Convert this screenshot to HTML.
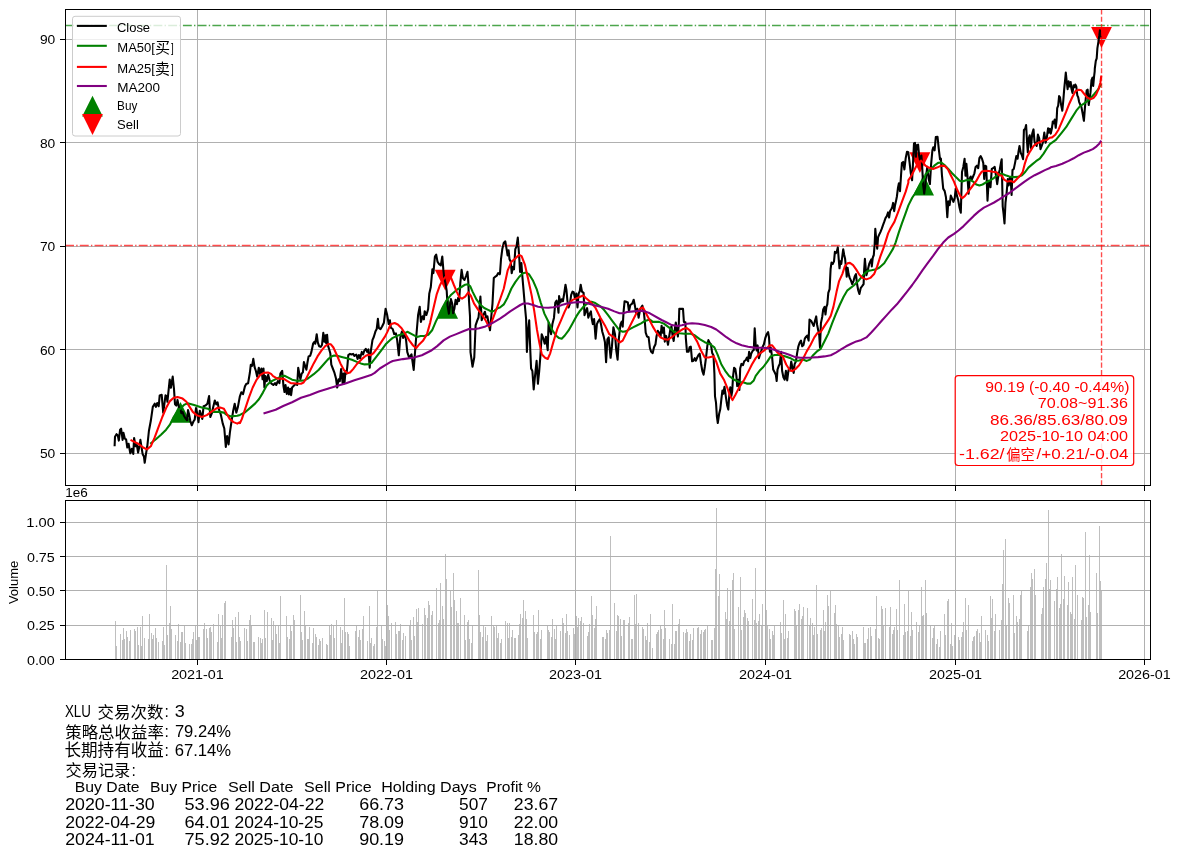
<!DOCTYPE html>
<html><head><meta charset="utf-8"><title>XLU</title><style>html,body{margin:0;padding:0;background:#fff}svg{display:block;will-change:transform}text{font-family:"Liberation Sans","Noto Sans CJK SC",sans-serif;white-space:pre}</style></head><body>
<svg width="1180" height="857" viewBox="0 0 1180 857" font-family="'Liberation Sans', 'Noto Sans CJK SC', sans-serif">
<rect width="1180" height="857" fill="#fff"/>
<path d="M180.5 401.9L190.9 422.7L170.1 422.7Z" fill="#008000"/>
<path d="M447.7 297.9L458.1 318.7L437.3 318.7Z" fill="#008000"/>
<path d="M923.6 174.7L934.0 195.5L913.2 195.5Z" fill="#008000"/>
<path d="M445.2 290.6L455.6 269.8L434.8 269.8Z" fill="#ff0000"/>
<path d="M919.9 173.1L930.3 152.3L909.5 152.3Z" fill="#ff0000"/>
<path d="M1101.5 47.9L1111.9 27.1L1091.1 27.1Z" fill="#ff0000"/>
<g stroke="#b0b0b0" stroke-width="1" shape-rendering="crispEdges">
<line x1="197.5" y1="9.0" x2="197.5" y2="486.0"/>
<line x1="386.5" y1="9.0" x2="386.5" y2="486.0"/>
<line x1="575.5" y1="9.0" x2="575.5" y2="486.0"/>
<line x1="765.5" y1="9.0" x2="765.5" y2="486.0"/>
<line x1="955.5" y1="9.0" x2="955.5" y2="486.0"/>
<line x1="1144.5" y1="9.0" x2="1144.5" y2="486.0"/>
<line x1="65.0" y1="453.5" x2="1151.0" y2="453.5"/>
<line x1="65.0" y1="349.5" x2="1151.0" y2="349.5"/>
<line x1="65.0" y1="246.5" x2="1151.0" y2="246.5"/>
<line x1="65.0" y1="142.5" x2="1151.0" y2="142.5"/>
<line x1="65.0" y1="39.5" x2="1151.0" y2="39.5"/>
</g>
<clipPath id="c1"><rect x="65.5" y="9.5" width="1085.0" height="476.0"/></clipPath>
<g clip-path="url(#c1)">
<path d="M114.6 446.3L115.0 436.7L116.5 434.2L117.8 435.5L118.8 440.6L120.1 429.7L121.1 428.7L122.6 439.9L123.5 432.9L124.8 438.6L126.1 439.3L127.3 447.5L128.6 443.7L130.3 453.3L131.8 448.8L133.3 453.9L134.1 438.0L135.6 446.3L136.9 445.0L138.1 452.6L139.4 446.3L140.4 439.9L142.6 453.9L143.9 456.4L144.7 462.8L146.0 453.9L147.3 446.3L148.9 431.0L150.8 420.8L152.8 406.9L154.7 403.7L155.9 406.9L157.2 403.1L158.7 406.2L159.7 395.4L161.7 394.8L163.2 412.6L164.2 405.6L165.5 395.4L166.7 396.1L167.4 401.8L169.7 379.5L170.9 387.8L172.7 376.6L174.0 389.1L175.0 404.3L176.3 405.6L177.5 399.9L178.8 406.9L180.1 408.1L181.4 413.2L182.6 411.9L183.9 415.8L185.4 418.3L187.1 420.2L188.0 410.0L189.0 413.9L190.3 420.8L191.8 425.3L193.4 421.5L194.7 419.6L196.0 408.1L197.2 413.2L198.5 422.1L199.8 410.7L201.1 414.5L202.3 418.9L203.6 406.2L205.5 405.6L207.4 403.7L209.1 396.1L210.3 417.0L211.9 413.2L213.1 407.5L214.8 400.5L216.3 404.3L217.6 402.4L218.9 409.4L220.8 414.5L222.7 423.4L224.3 428.5L225.8 446.9L227.1 436.1L228.6 444.4L229.9 432.3L231.6 420.8L233.2 410.7L234.7 403.7L236.3 412.6L237.9 406.9L239.8 396.7L241.4 392.2L243.0 394.2L244.9 386.5L246.2 384.0L248.1 383.3L249.9 372.5L250.8 364.7L252.1 365.9L253.3 358.9L254.6 367.2L255.9 371.0L257.2 376.7L258.8 367.8L260.1 374.2L261.4 368.5L262.6 379.3L263.5 368.5L264.4 387.5L265.4 376.1L266.7 381.2L268.2 374.8L269.9 381.2L271.5 383.7L273.3 385.0L275.0 383.1L276.2 385.0L277.8 381.2L279.4 383.1L280.4 373.6L282.2 370.8L283.5 386.3L284.5 392.0L285.5 385.0L286.8 393.9L288.1 387.5L288.9 394.5L290.2 388.8L291.1 395.2L292.1 387.5L294.0 385.6L295.9 383.7L297.2 385.0L298.2 367.8L299.5 374.8L300.4 379.3L301.7 373.6L302.9 372.3L303.9 362.1L305.1 365.9L306.4 369.7L307.4 362.8L308.6 356.4L310.2 355.8L311.4 351.9L313.1 343.7L314.4 341.8L315.3 343.7L316.7 334.2L317.8 342.4L319.1 346.2L320.7 346.9L322.0 345.0L323.3 332.9L324.5 341.8L325.4 335.4L326.2 343.1L327.1 334.8L328.0 345.6L329.0 348.8L330.3 353.2L331.3 364.7L332.8 368.5L334.3 372.3L336.0 378.6L337.2 387.5L338.5 379.3L339.8 381.2L341.1 369.1L341.9 376.1L342.7 383.7L343.6 373.6L344.5 383.1L345.5 371.0L346.5 373.6L347.4 365.9L348.3 355.1L350.0 353.9L351.6 354.5L353.1 353.9L354.4 355.8L356.3 354.5L357.6 358.9L358.9 355.1L360.1 358.3L361.8 351.9L363.1 354.5L364.3 350.7L365.8 348.8L367.1 351.9L368.4 349.4L369.7 367.8L370.9 350.7L372.5 339.9L373.7 337.3L375.4 331.6L376.7 329.1L377.9 318.9L378.8 327.8L380.5 329.1L382.1 326.5L383.9 322.7L385.6 308.7L387.2 315.1L388.7 324.0L389.9 320.2L390.8 327.7L392.7 329.0L394.2 334.1L395.9 333.4L397.2 340.4L398.8 355.3L400.3 337.5L401.9 331.5L403.1 337.9L404.8 334.1L406.1 340.4L407.3 352.1L409.2 357.8L411.5 354.4L413.7 369.9L415.6 344.5L416.9 329.0L418.1 315.0L419.7 306.7L420.9 322.0L422.6 316.3L423.9 319.4L424.7 311.2L426.4 315.0L428.1 309.3L429.3 293.4L430.8 287.0L432.4 269.2L433.4 273.1L434.9 256.5L436.2 254.6L437.5 261.6L439.1 264.2L440.8 265.4L442.3 256.5L443.3 269.2L444.2 278.1L445.5 283.2L446.7 290.8L447.6 306.1L448.9 313.7L449.9 306.1L450.9 299.1L452.2 303.6L453.1 313.1L454.4 308.6L455.6 299.7L456.9 304.2L458.2 297.8L459.1 301.0L460.3 283.2L461.6 269.9L462.9 278.1L464.5 280.0L466.2 275.6L467.5 271.8L468.3 281.9L469.0 301.0L470.0 316.3L470.5 352.1L472.5 366.7L474.3 357.2L475.6 325.4L477.2 320.7L478.5 317.5L479.4 308.6L480.4 296.6L481.7 320.1L483.0 315.6L484.9 311.8L486.1 317.5L487.4 316.3L488.7 323.9L490.0 330.3L491.2 317.5L492.5 303.6L493.8 278.1L495.0 276.9L496.9 275.6L498.2 273.1L499.7 274.3L500.0 273.2L501.0 259.2L502.3 249.1L503.8 242.7L505.3 241.4L506.6 249.1L507.6 255.4L508.6 250.3L509.5 259.2L510.8 261.8L511.7 273.2L513.0 266.9L514.0 269.4L515.3 249.1L516.5 246.5L517.8 237.6L519.1 255.4L520.1 271.9L521.4 263.1L522.2 274.5L523.5 289.7L524.8 305.0L526.1 319.0L526.9 352.0L528.0 331.7L529.2 320.3L530.3 350.8L531.1 368.6L532.4 371.1L533.7 389.5L535.0 376.2L536.6 360.9L537.9 383.8L539.2 371.1L540.4 355.8L541.7 334.2L543.2 338.1L544.7 343.8L546.0 336.8L547.7 350.1L548.6 322.8L549.8 329.2L551.1 334.2L552.4 324.1L554.0 317.7L555.3 302.5L556.6 300.6L557.8 306.3L558.5 312.6L559.1 296.1L560.4 302.5L561.7 299.3L562.9 301.2L564.2 293.6L565.5 284.7L566.4 289.7L567.4 300.6L568.6 307.5L569.9 303.7L571.2 294.8L572.5 291.7L573.7 292.3L575.0 298.6L576.3 293.6L577.5 307.5L578.6 293.6L579.8 291.0L580.7 284.7L582.0 291.7L583.6 292.9L584.5 315.2L585.8 311.4L587.1 308.2L588.3 317.7L589.6 313.9L590.9 311.4L591.8 319.0L592.8 324.1L594.1 319.0L595.6 338.7L596.9 324.1L598.1 321.5L599.8 319.0L601.1 324.7L602.3 331.7L603.6 336.1L604.9 341.9L606.1 362.2L607.4 339.3L608.7 337.4L610.6 357.8L611.9 346.9L613.4 327.2L615.0 334.2L616.3 350.8L617.6 359.7L618.9 338.1L620.5 324.1L621.8 321.5L622.7 326.6L623.6 311.4L624.6 301.2L626.5 301.8L627.8 302.5L629.0 311.4L630.3 305.0L632.2 303.7L633.7 299.7L635.0 306.3L636.0 312.6L637.3 308.8L638.6 317.7L639.8 311.4L641.1 307.5L642.4 305.6L643.9 312.6L644.8 321.3L645.7 332.7L647.0 336.5L648.6 337.2L649.9 348.0L651.2 351.8L652.7 353.1L654.0 347.3L655.5 344.2L656.5 336.5L657.8 330.8L659.1 332.7L660.6 336.5L661.6 325.7L662.9 332.7L663.9 327.6L664.8 341.6L666.1 335.9L666.9 339.1L668.0 344.8L669.2 336.5L670.5 328.3L671.5 326.4L672.5 335.3L673.7 341.0L675.0 327.6L675.8 322.5L676.9 330.8L677.9 336.5L678.8 323.8L679.3 308.9L683.0 308.9L683.9 321.9L685.4 322.3L685.8 337.8L687.0 351.8L688.6 351.8L689.6 347.3L690.8 346.7L692.1 361.3L693.4 360.7L694.7 358.1L695.9 360.7L697.2 357.5L698.5 355.0L699.7 353.7L701.0 363.2L702.3 370.8L703.6 374.7L704.8 367.0L706.1 356.9L707.4 345.4L708.4 340.1L709.7 342.9L710.9 344.2L712.2 353.1L713.5 355.6L714.4 373.4L715.0 396.3L716.0 402.6L716.9 416.6L717.8 423.0L719.1 414.1L720.3 409.0L721.4 398.8L722.4 390.6L723.3 393.7L724.5 386.7L725.8 396.3L727.1 405.2L728.3 409.6L729.2 396.3L730.3 387.4L731.3 396.3L732.2 391.2L733.1 375.9L734.1 367.7L735.3 368.9L736.4 375.9L737.2 386.1L738.5 379.7L739.4 389.9L740.2 368.3L741.4 363.9L743.0 365.1L744.2 361.3L745.8 360.0L747.0 357.5L748.1 361.3L749.1 351.8L750.3 358.1L751.2 353.7L752.5 351.1L753.8 349.9L754.7 328.3L755.7 345.4L756.7 350.5L757.6 345.4L758.9 358.1L760.1 354.3L761.4 350.5L762.7 346.7L763.9 344.2L765.2 338.4L766.5 334.6L768.1 332.1L769.0 337.2L769.9 351.8L770.9 348.0L772.2 358.1L773.2 369.6L774.5 372.1L775.8 374.7L776.7 381.0L777.5 369.6L778.8 365.8L779.8 363.9L781.1 351.8L782.1 370.8L783.4 377.2L784.7 379.7L785.9 370.8L787.2 380.4L788.5 370.2L789.9 368.3L790.2 370.4L791.2 361.5L792.5 367.9L793.7 373.0L794.6 364.1L795.9 361.5L797.2 352.6L798.4 346.3L799.7 342.5L801.0 340.6L802.2 346.3L803.5 345.0L804.8 338.6L806.1 336.7L807.3 335.5L808.6 340.6L809.5 319.6L811.1 320.8L812.4 323.4L813.7 325.9L815.0 320.8L816.2 316.4L817.1 324.7L818.1 329.7L819.2 334.8L820.0 347.5L820.9 323.4L822.2 317.0L823.2 309.4L824.5 306.9L825.5 314.5L826.4 306.9L827.3 304.3L828.3 292.9L829.6 289.1L830.6 269.0L831.5 262.6L832.8 263.9L834.0 261.4L834.9 251.8L835.9 253.1L836.9 251.2L837.8 247.4L838.7 258.8L839.5 268.3L840.4 261.4L841.3 263.9L842.3 256.3L843.2 249.3L844.2 255.0L845.1 258.8L846.1 269.0L846.7 276.6L847.6 267.7L848.6 274.1L849.7 277.9L850.9 280.4L852.2 284.2L853.5 281.1L854.7 276.6L856.0 274.1L856.9 283.0L858.2 290.2L859.4 294.0L860.7 288.1L862.6 285.5L863.6 284.2L864.2 269.0L864.9 258.8L865.8 269.0L866.4 275.3L867.5 271.5L868.3 267.7L869.2 263.9L870.3 261.4L871.3 259.4L871.8 266.4L872.8 257.5L873.8 255.0L874.7 243.6L875.3 228.9L876.4 241.0L877.2 248.6L878.1 237.2L879.2 234.7L880.4 232.1L881.7 228.9L883.0 225.1L884.2 221.9L885.5 218.1L886.8 216.2L888.1 212.4L889.1 217.5L890.1 211.1L891.2 209.2L892.2 207.3L893.1 202.9L894.2 211.1L895.0 205.4L895.9 201.6L896.9 196.5L898.0 187.6L898.9 183.2L900.0 191.1L901.0 175.8L901.9 163.1L903.2 161.9L904.4 169.5L905.7 158.1L907.0 151.7L908.3 152.3L909.5 161.9L910.8 173.3L912.1 180.3L913.0 163.1L914.0 143.4L915.0 142.8L915.9 156.8L916.8 145.3L918.1 144.7L919.1 155.5L920.1 160.6L921.4 155.5L922.2 166.9L923.1 184.7L924.2 193.6L925.2 186.0L926.1 175.8L927.3 166.9L928.6 178.4L929.9 184.1L931.1 164.4L932.4 150.4L933.3 147.2L934.6 150.4L935.8 137.1L937.5 136.7L938.8 149.2L940.0 159.3L940.9 158.7L941.9 174.6L943.2 188.6L944.7 191.1L946.0 197.5L947.3 217.2L948.3 201.3L949.6 205.1L950.8 195.6L952.1 198.7L953.4 201.9L954.7 198.1L955.7 188.6L956.9 195.6L958.2 200.0L959.5 207.6L960.8 212.7L962.0 172.0L963.3 166.9L964.6 158.7L965.5 175.8L966.4 163.8L967.4 175.8L968.6 193.6L969.7 178.4L970.7 176.5L971.8 179.7L973.1 176.5L974.4 173.3L975.6 166.9L976.9 165.7L978.2 168.2L979.4 158.1L980.7 156.1L982.0 158.7L983.3 163.1L984.2 179.0L985.2 165.7L986.2 166.3L987.5 200.6L988.7 180.9L989.6 182.2L990.5 187.3L991.8 168.9L993.1 168.2L994.7 166.9L996.0 175.8L997.2 184.1L998.5 174.6L999.8 169.5L1001.1 161.9L1001.7 159.3L1002.7 206.4L1003.6 214.0L1004.5 223.5L1005.5 202.5L1006.5 194.3L1007.8 179.0L1008.7 185.4L1010.0 177.1L1010.8 180.9L1011.6 194.9L1012.5 170.1L1013.8 168.9L1015.0 163.1L1016.3 156.1L1017.6 158.7L1018.5 151.7L1019.5 146.0L1020.8 153.0L1021.8 154.9L1023.1 159.3L1023.9 130.1L1025.2 128.8L1026.1 125.0L1027.1 142.8L1027.8 152.3L1028.6 139.0L1029.7 135.2L1030.9 147.9L1032.2 133.9L1033.5 129.4L1034.5 141.5L1035.8 144.7L1036.7 146.0L1037.9 134.5L1039.2 138.3L1040.5 149.2L1041.7 146.0L1043.0 142.2L1044.3 132.6L1045.6 142.8L1046.8 137.7L1048.1 128.2L1049.0 132.6L1049.9 128.8L1050.0 129.7L1050.8 133.6L1051.9 128.5L1052.8 121.5L1053.6 123.4L1054.7 119.6L1055.7 127.8L1056.6 120.2L1057.2 108.1L1058.2 105.6L1059.1 96.1L1060.0 97.3L1061.0 104.3L1062.3 110.7L1063.3 100.5L1064.2 89.1L1065.1 80.2L1065.8 72.5L1066.7 81.4L1067.6 89.1L1068.6 81.4L1069.7 86.5L1070.7 82.1L1071.4 88.4L1072.5 92.9L1073.5 85.3L1074.4 87.2L1075.3 84.6L1076.3 86.5L1077.3 95.4L1078.2 97.3L1079.1 101.8L1080.1 104.3L1081.4 106.9L1082.6 113.2L1083.9 120.8L1084.9 108.1L1085.8 98.0L1086.7 90.3L1087.7 89.7L1088.7 105.0L1089.6 99.2L1090.5 92.2L1091.5 80.2L1092.5 77.6L1093.2 85.9L1094.1 76.4L1094.7 71.3L1094.8 68.5L1095.8 60.8L1096.7 58.3L1097.4 48.1L1098.4 41.8L1099.3 35.4L1099.9 30.3L1100.7 37.3" fill="none" stroke="#000" stroke-width="2.08" stroke-linejoin="round" stroke-linecap="butt"/>
<path d="M150.2 443.7L155.9 439.3L161.0 434.8L166.1 429.7L169.9 424.7L173.7 417.0L177.5 411.3L181.4 407.5L184.5 404.6L187.7 403.3L194.1 405.0L201.7 407.5L208.1 408.8L213.1 411.9L219.5 411.9L223.9 412.6L227.1 415.1L230.9 416.4L237.3 415.8L240.0 414.9L245.1 412.3L250.2 407.9L255.3 403.4L259.1 399.0L262.9 392.6L266.7 385.6L270.5 381.8L274.3 379.9L278.1 378.0L281.9 376.1L284.5 375.8L288.3 377.6L292.1 379.7L295.9 380.6L301.0 380.8L304.8 380.2L308.6 378.0L313.7 374.2L318.8 369.7L323.9 364.0L327.7 359.6L330.9 356.8L334.1 355.5L337.2 355.8L341.7 357.0L346.8 358.3L351.9 359.8L356.9 361.9L360.8 363.4L364.6 364.4L368.4 364.3L371.6 362.8L374.7 358.9L378.6 353.9L382.4 348.8L386.2 343.7L389.9 340.3L392.7 337.9L397.8 335.6L402.9 334.1L407.3 331.8L411.8 334.1L416.9 336.9L420.7 336.0L424.5 336.0L428.3 334.7L432.1 330.3L435.9 321.4L438.5 316.3L442.3 308.0L446.1 301.0L451.2 294.7L456.3 290.2L461.4 287.0L465.2 284.7L467.7 284.2L470.3 286.4L472.8 292.1L476.6 299.7L480.4 304.8L484.2 308.0L488.1 309.9L491.9 311.8L494.4 310.6L498.2 308.0L500.0 307.5L503.8 304.4L507.6 297.4L511.4 288.5L515.3 282.1L519.1 277.0L522.9 273.2L526.1 272.6L529.2 274.5L533.1 280.8L536.9 289.7L540.7 302.5L544.5 313.9L548.3 321.5L552.1 329.8L555.9 335.5L559.1 338.1L561.7 338.7L564.8 335.5L568.6 330.4L572.5 323.4L576.3 316.4L580.1 310.7L583.9 306.3L587.7 303.1L591.5 301.8L595.3 303.1L600.4 306.3L604.2 310.1L608.1 315.2L611.9 320.3L615.7 325.3L619.5 330.4L622.7 331.7L625.8 331.4L629.7 329.2L633.5 327.2L637.3 325.3L641.1 323.4L644.9 320.9L649.9 319.6L652.7 321.9L659.1 321.9L664.2 323.8L669.2 327.6L674.3 332.1L679.4 333.3L684.5 333.7L690.8 333.7L694.7 335.3L699.7 339.1L704.8 342.2L709.9 344.2L714.4 347.3L717.5 354.3L721.4 364.5L725.2 370.8L729.0 375.9L734.1 379.7L739.2 382.0L743.0 382.3L746.8 383.6L750.6 383.6L753.8 380.4L755.7 375.9L759.5 370.8L763.3 367.0L767.1 361.9L770.9 356.2L774.7 355.0L779.8 355.0L784.9 356.2L789.9 357.9L795.3 360.9L799.1 360.5L802.9 359.6L806.7 360.9L809.9 359.6L813.1 355.2L816.9 351.4L820.7 348.8L824.5 341.2L828.3 333.6L832.1 323.4L835.9 313.9L839.7 305.0L843.6 296.7L847.4 290.3L849.3 288.9L853.7 285.5L858.8 280.4L863.9 274.1L867.7 270.9L871.5 270.3L875.3 269.6L879.2 267.7L884.2 263.3L889.3 255.0L893.1 248.6L895.7 242.3L898.9 232.1L902.0 223.2L905.2 214.3L908.4 205.4L912.2 197.8L914.7 194.0L919.8 185.1L924.9 177.5L925.4 174.6L930.5 169.5L934.3 165.7L938.1 162.9L941.3 162.5L944.5 165.0L948.3 168.9L952.1 173.3L955.9 177.1L959.7 180.7L962.3 181.6L966.1 180.3L969.9 179.9L973.1 181.6L976.3 184.5L979.4 185.4L982.6 184.5L986.4 182.2L990.3 180.3L994.1 177.8L997.9 174.8L1001.7 173.6L1005.5 175.2L1009.3 176.5L1014.4 177.1L1018.2 176.9L1022.0 175.2L1025.2 172.0L1028.4 167.6L1032.2 164.4L1036.0 161.2L1039.8 158.7L1043.6 153.6L1046.8 148.5L1049.9 144.1L1055.9 139.9L1061.0 133.6L1066.1 127.2L1071.2 118.9L1076.3 110.7L1080.1 106.2L1083.9 103.7L1089.0 99.9L1094.1 94.2L1097.9 89.7L1101.3 84.0" fill="none" stroke="#008000" stroke-width="2.08" stroke-linejoin="round" stroke-linecap="butt"/>
<path d="M130.5 439.9L138.1 443.7L143.2 447.5L147.0 449.4L150.8 446.3L154.7 437.4L158.5 427.2L162.3 417.0L166.1 408.1L169.9 401.1L173.7 397.7L177.5 397.1L182.6 398.6L186.4 401.8L189.6 406.9L192.8 411.9L196.6 415.1L201.7 417.0L206.8 415.1L211.9 411.3L216.9 408.1L220.8 407.6L223.9 408.8L227.1 414.5L229.7 418.9L233.5 422.1L237.3 423.6L239.8 422.1L240.0 423.1L241.9 418.9L245.1 409.2L248.9 397.7L252.7 387.5L256.5 379.9L260.3 374.8L264.2 372.7L268.0 372.5L271.1 373.9L273.1 376.1L276.9 378.4L280.7 378.6L283.9 378.9L287.0 380.9L290.8 383.1L295.9 383.5L301.0 383.7L303.6 382.5L306.1 378.6L309.9 371.0L313.7 363.4L317.5 356.4L321.4 350.7L325.2 346.2L328.3 344.1L330.9 344.3L333.4 347.5L336.6 354.5L340.4 363.4L344.2 370.4L347.4 373.2L350.0 372.5L353.1 369.1L356.9 364.0L362.0 358.9L365.8 355.8L368.4 354.7L370.9 355.1L373.5 353.2L377.3 348.1L381.1 342.4L384.9 336.7L387.5 331.6L389.9 325.9L391.4 323.9L394.6 323.0L397.8 324.5L401.6 328.3L405.4 334.1L409.2 340.4L413.1 345.5L416.2 348.1L419.4 344.2L423.2 340.4L427.0 334.1L430.2 322.6L433.4 308.6L436.6 294.7L439.7 285.8L442.3 280.7L446.1 276.2L449.3 276.2L451.2 278.1L453.7 284.5L456.9 292.1L459.4 297.2L462.0 298.7L465.2 296.6L468.3 292.4L470.9 295.9L474.1 303.6L477.9 309.3L481.7 314.4L485.5 320.1L488.7 326.4L490.6 324.5L493.1 318.2L496.9 308.0L500.0 299.5L503.8 288.5L507.6 270.7L511.4 261.8L515.3 258.6L519.1 254.8L521.6 256.1L524.8 264.3L528.0 278.3L531.8 296.1L534.3 311.4L536.9 329.2L539.4 343.1L541.9 354.6L545.1 357.8L547.7 359.0L550.2 353.3L553.4 341.9L557.2 329.2L561.0 320.3L564.8 311.4L568.6 303.7L572.5 299.9L576.3 298.4L580.1 296.7L583.3 295.5L585.8 298.0L590.3 301.8L595.3 307.5L600.4 317.7L605.5 326.6L609.3 334.2L613.1 336.8L616.3 339.3L619.5 342.5L622.7 340.6L625.8 334.2L629.7 326.6L633.5 319.0L636.7 312.6L639.8 308.8L643.0 307.5L649.5 320.0L652.7 326.4L656.5 332.7L660.3 337.2L664.2 339.1L668.0 339.7L671.8 337.2L675.6 334.0L679.4 331.4L683.2 328.9L686.4 327.9L689.6 330.2L693.4 335.3L697.2 341.6L701.0 350.5L704.8 357.5L708.6 357.5L713.7 356.2L716.3 361.9L720.1 373.4L723.9 379.7L727.1 387.4L730.3 396.3L732.5 400.1L735.3 395.0L739.2 387.4L744.2 379.7L748.1 372.1L751.9 364.5L755.7 358.1L759.5 353.7L763.3 351.1L767.1 348.0L769.7 345.4L772.2 345.4L774.7 348.6L777.3 352.4L779.8 354.3L783.0 356.9L786.2 364.5L789.9 370.2L792.1 371.1L795.3 369.2L799.1 365.3L802.9 359.0L806.7 351.4L810.5 345.0L814.3 337.4L817.5 332.9L820.7 331.9L824.5 325.9L828.3 320.2L830.8 315.8L833.4 306.9L836.6 291.6L839.1 281.1L842.3 274.1L844.8 266.4L847.4 263.3L849.9 262.9L853.1 265.2L856.3 269.6L859.4 274.7L862.6 277.9L866.4 279.4L870.3 277.9L874.1 274.1L877.2 266.4L880.4 256.3L884.2 246.1L888.1 233.4L890.6 228.3L894.4 221.9L898.2 211.8L902.0 201.6L905.8 191.4L908.4 182.5L908.3 180.3L911.4 175.8L914.6 169.5L917.8 163.1L921.0 160.6L923.5 163.1L925.4 165.7L928.6 167.6L933.1 168.9L936.9 167.6L940.7 165.9L944.5 165.7L947.7 168.9L950.8 175.2L954.0 181.6L957.2 189.8L960.4 196.2L962.3 198.1L964.8 196.2L968.6 191.1L972.5 186.0L976.3 180.9L979.4 175.2L982.0 171.4L985.2 170.8L989.0 171.0L992.8 171.8L996.6 172.3L999.2 175.2L1001.7 175.6L1004.2 179.7L1007.4 181.6L1010.6 180.9L1013.8 182.2L1016.9 179.0L1020.1 175.8L1022.7 172.0L1024.6 164.4L1027.1 156.8L1030.3 151.1L1033.5 146.0L1036.7 143.4L1039.8 142.2L1043.6 140.3L1046.8 140.0L1049.9 137.7L1052.1 137.4L1055.3 134.8L1058.5 129.7L1062.3 120.8L1066.1 111.9L1069.3 103.7L1072.5 96.7L1075.6 91.0L1078.8 89.7L1081.4 90.3L1083.9 93.5L1087.1 97.3L1090.3 99.2L1093.4 98.0L1096.0 94.8L1098.5 89.1L1100.4 82.7L1101.3 75.7" fill="none" stroke="#ff0000" stroke-width="2.08" stroke-linejoin="round" stroke-linecap="butt"/>
<path d="M263.5 413.6L269.2 411.7L275.6 409.8L283.2 406.0L292.1 402.2L301.0 397.7L309.9 394.9L318.8 391.6L327.7 388.8L336.6 386.0L345.5 383.5L354.4 380.3L363.3 377.4L370.9 375.1L374.7 372.9L379.8 368.5L384.9 365.3L389.9 362.4L392.7 361.0L402.9 359.1L413.1 357.8L421.9 355.3L430.8 350.8L437.2 346.1L443.6 340.4L449.9 336.6L456.3 334.1L462.6 331.5L469.0 329.0L474.1 329.2L479.2 328.3L485.5 326.4L491.9 323.3L500.0 318.7L505.1 315.2L510.2 311.4L515.3 308.2L520.3 305.0L523.5 303.5L528.0 303.5L533.1 305.0L538.1 306.7L543.2 307.5L548.3 307.8L553.4 307.3L558.5 306.3L563.6 304.4L568.6 303.1L573.7 302.5L578.8 302.1L583.9 302.2L589.0 303.7L595.3 305.6L601.7 306.9L608.1 308.8L614.4 311.4L619.5 313.3L623.3 313.3L627.1 312.0L633.5 311.4L639.8 310.7L644.9 311.4L649.9 313.3L661.6 320.0L666.7 322.5L671.8 325.1L676.9 326.1L681.9 325.3L687.0 323.8L692.1 323.2L698.5 323.8L704.8 325.1L711.2 327.0L716.3 329.5L721.4 333.3L726.4 337.2L731.5 340.6L736.6 343.3L741.7 345.2L748.1 346.7L754.4 347.6L760.8 347.7L767.1 348.0L773.5 349.5L779.8 351.8L784.9 353.3L789.9 355.0L795.3 357.1L800.3 357.7L805.4 357.7L811.8 357.5L818.1 357.1L824.5 356.4L830.8 355.2L835.9 352.6L841.0 349.4L846.1 346.3L851.2 343.7L856.3 341.4L861.4 339.9L866.4 337.4L871.5 332.3L876.6 326.6L881.7 320.8L886.8 315.1L891.9 309.4L896.9 304.3L902.0 298.0L907.1 291.6L912.2 285.0L917.3 277.9L922.4 270.3L927.3 263.6L933.1 255.9L938.1 248.9L943.2 242.6L948.3 237.5L954.0 233.9L958.5 230.5L963.6 226.1L968.6 221.0L973.7 215.9L978.8 211.4L983.9 207.6L989.0 205.1L994.1 202.5L999.2 199.4L1004.2 196.2L1009.3 193.0L1014.4 189.2L1019.5 185.4L1024.6 181.6L1029.7 178.1L1034.7 175.2L1039.8 172.7L1044.9 170.1L1049.9 168.0L1050.8 167.2L1055.9 166.0L1062.3 163.8L1068.6 160.9L1073.7 158.3L1078.8 155.2L1083.9 152.6L1089.0 150.7L1092.8 149.1L1096.6 146.3L1099.2 143.7L1101.3 140.6" fill="none" stroke="#800080" stroke-width="2.08" stroke-linejoin="round" stroke-linecap="butt"/>
<line x1="65.1" y1="25.43" x2="1150.5" y2="25.43" stroke="#008000" stroke-opacity="0.7" stroke-width="1.39" stroke-dasharray="8.892 2.223 1.389 2.223"/>
<line x1="65.1" y1="245.53" x2="1150.5" y2="245.53" stroke="#ff0000" stroke-opacity="0.7" stroke-width="1.39" stroke-dasharray="8.892 2.223 1.389 2.223"/>
<line x1="1101.54" y1="485.5" x2="1101.54" y2="9.5" stroke="#ff0000" stroke-opacity="0.7" stroke-width="1.39" stroke-dasharray="5.14 2.22"/>
</g>
<rect x="955.2" y="375.7" width="178.5" height="89.8" rx="3" ry="3" fill="#fff" fill-opacity="0.88" stroke="#ff0000" stroke-width="1.2"/>
<text x="985.35" y="391.70" font-size="15.0" textLength="144.03" lengthAdjust="spacingAndGlyphs" fill="#ff0000">90.19 (-0.40 -0.44%)</text>
<text x="1037.70" y="408.30" font-size="15.0" textLength="90.18" lengthAdjust="spacingAndGlyphs" fill="#ff0000">70.08~91.36</text>
<text x="989.95" y="424.60" font-size="15.0" textLength="137.92" lengthAdjust="spacingAndGlyphs" fill="#ff0000">86.36/85.63/80.09</text>
<text x="1000.10" y="440.70" font-size="15.0" textLength="127.91" lengthAdjust="spacingAndGlyphs" fill="#ff0000">2025-10-10 04:00</text>
<text x="959.10" y="458.90" font-size="15.0" textLength="45.45" lengthAdjust="spacingAndGlyphs" fill="#ff0000">-1.62/</text>
<text x="1006.18" y="459.50" font-size="14.5" textLength="28.5" lengthAdjust="spacingAndGlyphs" fill="#ff0000" font-family="'Liberation Sans', 'Noto Sans CJK SC', sans-serif">偏空</text>
<text x="1036.60" y="458.90" font-size="15.0" textLength="91.86" lengthAdjust="spacingAndGlyphs" fill="#ff0000">/+0.21/-0.04</text>
<rect x="65.5" y="9.5" width="1085.0" height="476.0" fill="none" stroke="#000" stroke-width="1" shape-rendering="crispEdges"/>
<g stroke="#000" stroke-width="1" shape-rendering="crispEdges">
<line x1="197.5" y1="485.5" x2="197.5" y2="490.5"/>
<line x1="386.5" y1="485.5" x2="386.5" y2="490.5"/>
<line x1="575.5" y1="485.5" x2="575.5" y2="490.5"/>
<line x1="765.5" y1="485.5" x2="765.5" y2="490.5"/>
<line x1="955.5" y1="485.5" x2="955.5" y2="490.5"/>
<line x1="1144.5" y1="485.5" x2="1144.5" y2="490.5"/>
<line x1="60.0" y1="453.5" x2="65.5" y2="453.5"/>
<line x1="60.0" y1="349.5" x2="65.5" y2="349.5"/>
<line x1="60.0" y1="246.5" x2="65.5" y2="246.5"/>
<line x1="60.0" y1="142.5" x2="65.5" y2="142.5"/>
<line x1="60.0" y1="39.5" x2="65.5" y2="39.5"/>
</g>
<text x="39.90" y="458.00" font-size="12.43" textLength="15.38" lengthAdjust="spacingAndGlyphs" fill="#000">50</text>
<text x="39.90" y="355.00" font-size="12.43" textLength="15.38" lengthAdjust="spacingAndGlyphs" fill="#000">60</text>
<text x="39.90" y="251.00" font-size="12.43" textLength="15.38" lengthAdjust="spacingAndGlyphs" fill="#000">70</text>
<text x="39.90" y="148.00" font-size="12.43" textLength="15.38" lengthAdjust="spacingAndGlyphs" fill="#000">80</text>
<text x="39.90" y="44.00" font-size="12.43" textLength="15.38" lengthAdjust="spacingAndGlyphs" fill="#000">90</text>
<rect x="72.5" y="16.3" width="108" height="119.7" rx="2.5" ry="2.5" fill="#fff" fill-opacity="0.8" stroke="#cccccc" stroke-width="1"/>
<line x1="76.9" y1="25.9" x2="106.8" y2="25.9" stroke="#000" stroke-width="2.08"/>
<line x1="76.9" y1="45.8" x2="106.8" y2="45.8" stroke="#008000" stroke-width="2.08"/>
<line x1="76.9" y1="66.9" x2="106.8" y2="66.9" stroke="#ff0000" stroke-width="2.08"/>
<line x1="76.9" y1="86.0" x2="106.8" y2="86.0" stroke="#800080" stroke-width="2.08"/>
<path d="M92.5 95.8L102.9 116.6L82.1 116.6Z" fill="#008000"/>
<path d="M92.5 134.9L102.9 114.1L82.1 114.1Z" fill="#ff0000"/>
<text x="116.90" y="32.05" font-size="13.0" textLength="33.22" lengthAdjust="spacingAndGlyphs" fill="#000">Close</text>
<text x="117.30" y="52.00" font-size="12.75" textLength="37.70" lengthAdjust="spacingAndGlyphs" fill="#000">MA50[</text>
<text x="155.21" y="52.86" font-size="14.9" textLength="14.82" lengthAdjust="spacingAndGlyphs" fill="#000" font-family="'Liberation Sans', 'Noto Sans CJK SC', sans-serif">买</text>
<text x="170.90" y="52.00" font-size="12.75" textLength="2.73" lengthAdjust="spacingAndGlyphs" fill="#000">]</text>
<text x="117.30" y="72.85" font-size="12.75" textLength="37.70" lengthAdjust="spacingAndGlyphs" fill="#000">MA25[</text>
<text x="155.05" y="73.60" font-size="14.8" textLength="14.82" lengthAdjust="spacingAndGlyphs" fill="#000" font-family="'Liberation Sans', 'Noto Sans CJK SC', sans-serif">卖</text>
<text x="170.90" y="72.85" font-size="12.75" textLength="2.73" lengthAdjust="spacingAndGlyphs" fill="#000">]</text>
<text x="117.30" y="91.80" font-size="12.75" textLength="42.78" lengthAdjust="spacingAndGlyphs" fill="#000">MA200</text>
<text x="117.10" y="109.70" font-size="12.75" textLength="20.23" lengthAdjust="spacingAndGlyphs" fill="#000">Buy</text>
<text x="117.10" y="128.90" font-size="13.0" textLength="21.77" lengthAdjust="spacingAndGlyphs" fill="#000">Sell</text>
<g shape-rendering="crispEdges">
<path fill="#808080" fill-opacity="0.5" d="M115 621V659H116V621ZM116 646V659H117V646ZM120 634V659H121V634ZM122 640V659H123V640ZM123 628V659H124V628ZM124 639V659H125V639ZM126 631V659H127V631ZM127 637V659H128V637ZM129 641V659H130V641ZM130 630V659H131V630ZM134 629V659H135V629ZM135 631V659H136V631ZM137 627V659H138V627ZM138 645V659H139V645ZM140 627V659H141V627ZM141 646V659H142V646ZM142 616V659H143V616ZM144 638V659H145V638ZM148 639V659H149V639ZM149 614V659H150V614ZM151 633V659H152V633ZM152 639V659H153V639ZM153 635V659H154V635ZM155 628V659H156V628ZM156 638V659H157V638ZM158 642V659H159V642ZM162 641V659H163V641ZM163 627V659H164V627ZM164 645V659H165V645ZM166 565V659H167V565ZM167 635V659H168V635ZM169 623V659H170V623ZM170 606V659H171V606ZM171 629V659H172V629ZM175 635V659H176V635ZM177 641V659H178V641ZM178 624V659H179V624ZM180 642V659H181V642ZM181 632V659H182V632ZM182 632V659H183V632ZM184 625V659H185V625ZM185 643V659H186V643ZM189 644V659H190V644ZM191 644V659H192V644ZM192 639V659H193V639ZM193 632V659H194V632ZM195 626V659H196V626ZM196 640V659H197V640ZM198 637V659H199V637ZM199 637V659H200V637ZM203 629V659H204V629ZM204 623V659H205V623ZM206 629V659H207V629ZM207 638V659H208V638ZM209 628V659H210V628ZM210 627V659H211V627ZM211 632V659H212V632ZM213 624V659H214V624ZM217 642V659H218V642ZM218 614V659H219V614ZM220 625V659H221V625ZM221 638V659H222V638ZM222 615V659H223V615ZM224 603V659H225V603ZM225 601V659H226V601ZM231 637V659H232V637ZM232 620V659H233V620ZM233 628V659H234V628ZM235 617V659H236V617ZM236 642V659H237V642ZM238 612V659H239V612ZM239 637V659H240V637ZM240 641V659H241V641ZM244 628V659H245V628ZM246 629V659H247V629ZM247 641V659H248V641ZM249 620V659H250V620ZM250 615V659H251V615ZM251 626V659H252V626ZM253 642V659H254V642ZM254 642V659H255V642ZM258 637V659H259V637ZM260 638V659H261V638ZM261 643V659H262V643ZM262 639V659H263V639ZM264 610V659H265V610ZM265 638V659H266V638ZM267 612V659H268V612ZM271 618V659H272V618ZM272 640V659H273V640ZM273 621V659H274V621ZM275 625V659H276V625ZM276 634V659H277V634ZM278 626V659H279V626ZM279 643V659H280V643ZM280 596V659H281V596ZM286 616V659H287V616ZM287 637V659H288V637ZM289 639V659H290V639ZM290 625V659H291V625ZM291 631V659H292V631ZM293 615V659H294V615ZM294 620V659H295V620ZM300 595V659H301V595ZM301 632V659H302V632ZM302 640V659H303V640ZM304 611V659H305V611ZM305 625V659H306V625ZM307 639V659H308V639ZM308 639V659H309V639ZM309 627V659H310V627ZM312 643V659H313V643ZM313 628V659H314V628ZM315 634V659H316V634ZM316 637V659H317V637ZM318 645V659H319V645ZM319 639V659H320V639ZM320 641V659H321V641ZM322 638V659H323V638ZM326 644V659H327V644ZM327 645V659H328V645ZM329 626V659H330V626ZM330 635V659H331V635ZM331 624V659H332V624ZM333 626V659H334V626ZM334 638V659H335V638ZM336 620V659H337V620ZM340 627V659H341V627ZM341 643V659H342V643ZM342 630V659H343V630ZM344 598V659H345V598ZM345 632V659H346V632ZM347 632V659H348V632ZM348 634V659H349V634ZM349 646V659H350V646ZM355 631V659H356V631ZM356 625V659H357V625ZM358 637V659H359V637ZM359 630V659H360V630ZM360 640V659H361V640ZM362 629V659H363V629ZM363 616V659H364V616ZM367 641V659H368V641ZM369 606V659H370V606ZM370 643V659H371V643ZM371 638V659H372V638ZM373 646V659H374V646ZM374 644V659H375V644ZM376 627V659H377V627ZM377 590V659H378V590ZM381 625V659H382V625ZM382 639V659H383V639ZM384 641V659H385V641ZM385 646V659H386V646ZM387 605V659H388V605ZM388 616V659H389V616ZM389 630V659H390V630ZM391 623V659H392V623ZM395 622V659H396V622ZM396 634V659H397V634ZM398 631V659H399V631ZM399 631V659H400V631ZM400 624V659H401V624ZM402 640V659H403V640ZM403 633V659H404V633ZM405 636V659H406V636ZM409 625V659H410V625ZM410 620V659H411V620ZM411 640V659H412V640ZM413 617V659H414V617ZM414 636V659H415V636ZM416 609V659H417V609ZM417 622V659H418V622ZM418 608V659H419V608ZM422 624V659H423V624ZM424 608V659H425V608ZM425 615V659H426V615ZM427 618V659H428V618ZM428 601V659H429V601ZM429 605V659H430V605ZM431 615V659H432V615ZM432 611V659H433V611ZM436 588V659H437V588ZM438 623V659H439V623ZM439 620V659H440V620ZM440 583V659H441V583ZM442 606V659H443V606ZM443 619V659H444V619ZM445 554V659H446V554ZM446 579V659H447V579ZM450 590V659H451V590ZM451 607V659H452V607ZM453 573V659H454V573ZM454 600V659H455V600ZM456 611V659H457V611ZM457 623V659H458V623ZM458 623V659H459V623ZM460 598V659H461V598ZM464 615V659H465V615ZM465 640V659H466V640ZM467 622V659H468V622ZM468 620V659H469V620ZM469 639V659H470V639ZM471 643V659H472V643ZM472 625V659H473V625ZM478 570V659H479V570ZM479 615V659H480V615ZM480 632V659H481V632ZM482 637V659H483V637ZM483 625V659H484V625ZM485 627V659H486V627ZM486 641V659H487V641ZM487 635V659H488V635ZM491 616V659H492V616ZM493 626V659H494V626ZM494 627V659H495V627ZM496 626V659H497V626ZM497 638V659H498V638ZM498 633V659H499V633ZM500 643V659H501V643ZM501 639V659H502V639ZM505 621V659H506V621ZM507 623V659H508V623ZM508 638V659H509V638ZM509 623V659H510V623ZM511 637V659H512V637ZM512 630V659H513V630ZM514 638V659H515V638ZM515 638V659H516V638ZM518 635V659H519V635ZM519 624V659H520V624ZM520 614V659H521V614ZM522 618V659H523V618ZM523 600V659H524V600ZM525 611V659H526V611ZM526 619V659H527V619ZM527 638V659H528V638ZM533 615V659H534V615ZM534 632V659H535V632ZM536 634V659H537V634ZM537 632V659H538V632ZM538 610V659H539V610ZM540 639V659H541V639ZM541 630V659H542V630ZM547 626V659H548V626ZM548 630V659H549V630ZM549 632V659H550V632ZM551 637V659H552V637ZM552 619V659H553V619ZM554 629V659H555V629ZM555 639V659H556V639ZM556 626V659H557V626ZM560 631V659H561V631ZM562 618V659H563V618ZM563 623V659H564V623ZM565 633V659H566V633ZM566 614V659H567V614ZM567 631V659H568V631ZM569 635V659H570V635ZM573 628V659H574V628ZM574 634V659H575V634ZM576 616V659H577V616ZM577 627V659H578V627ZM578 618V659H579V618ZM580 621V659H581V621ZM581 617V659H582V617ZM583 623V659H584V623ZM587 636V659H588V636ZM588 632V659H589V632ZM589 624V659H590V624ZM591 596V659H592V596ZM592 615V659H593V615ZM594 628V659H595V628ZM595 619V659H596V619ZM596 606V659H597V606ZM602 637V659H603V637ZM603 637V659H604V637ZM605 639V659H606V639ZM606 630V659H607V630ZM607 633V659H608V633ZM609 630V659H610V630ZM610 536V659H611V536ZM614 603V659H615V603ZM616 631V659H617V631ZM617 615V659H618V615ZM618 616V659H619V616ZM620 619V659H621V619ZM621 636V659H622V636ZM623 620V659H624V620ZM624 620V659H625V620ZM628 623V659H629V623ZM629 617V659H630V617ZM631 639V659H632V639ZM632 639V659H633V639ZM634 595V659H635V595ZM635 624V659H636V624ZM636 594V659H637V594ZM638 623V659H639V623ZM642 627V659H643V627ZM643 629V659H644V629ZM645 636V659H646V636ZM646 640V659H647V640ZM647 623V659H648V623ZM649 642V659H650V642ZM650 614V659H651V614ZM652 648V659H653V648ZM656 634V659H657V634ZM657 632V659H658V632ZM658 630V659H659V630ZM660 625V659H661V625ZM661 629V659H662V629ZM663 639V659H664V639ZM664 610V659H665V610ZM665 628V659H666V628ZM669 639V659H670V639ZM671 644V659H672V644ZM672 604V659H673V604ZM674 644V659H675V644ZM675 631V659H676V631ZM676 631V659H677V631ZM678 624V659H679V624ZM679 619V659H680V619ZM683 632V659H684V632ZM685 633V659H686V633ZM686 629V659H687V629ZM687 632V659H688V632ZM689 641V659H690V641ZM690 634V659H691V634ZM692 640V659H693V640ZM693 628V659H694V628ZM697 628V659H698V628ZM698 627V659H699V627ZM700 634V659H701V634ZM701 630V659H702V630ZM703 632V659H704V632ZM704 630V659H705V630ZM705 629V659H706V629ZM707 626V659H708V626ZM711 640V659H712V640ZM712 640V659H713V640ZM714 628V659H715V628ZM715 569V659H716V569ZM716 508V659H717V508ZM718 596V659H719V596ZM719 574V659H720V574ZM725 612V659H726V612ZM726 619V659H727V619ZM727 588V659H728V588ZM729 621V659H730V621ZM730 591V659H731V591ZM732 580V659H733V580ZM733 573V659H734V573ZM734 629V659H735V629ZM738 607V659H739V607ZM740 577V659H741V577ZM741 630V659H742V630ZM743 617V659H744V617ZM744 610V659H745V610ZM745 613V659H746V613ZM747 618V659H748V618ZM748 621V659H749V621ZM752 599V659H753V599ZM754 620V659H755V620ZM755 568V659H756V568ZM756 623V659H757V623ZM758 621V659H759V621ZM759 614V659H760V614ZM761 626V659H762V626ZM762 604V659H763V604ZM765 624V659H766V624ZM766 610V659H767V610ZM767 626V659H768V626ZM769 629V659H770V629ZM770 639V659H771V639ZM772 631V659H773V631ZM773 635V659H774V635ZM774 625V659H775V625ZM780 622V659H781V622ZM781 633V659H782V633ZM783 600V659H784V600ZM784 639V659H785V639ZM785 614V659H786V614ZM787 638V659H788V638ZM788 631V659H789V631ZM794 609V659H795V609ZM795 611V659H796V611ZM796 625V659H797V625ZM798 610V659H799V610ZM799 604V659H800V604ZM801 619V659H802V619ZM802 616V659H803V616ZM803 607V659H804V607ZM807 608V659H808V608ZM809 626V659H810V626ZM810 618V659H811V618ZM812 623V659H813V623ZM813 635V659H814V635ZM814 627V659H815V627ZM816 585V659H817V585ZM817 634V659H818V634ZM820 630V659H821V630ZM821 628V659H822V628ZM823 610V659H824V610ZM824 631V659H825V631ZM825 622V659H826V622ZM827 595V659H828V595ZM828 606V659H829V606ZM830 591V659H831V591ZM834 613V659H835V613ZM835 605V659H836V605ZM836 624V659H837V624ZM838 626V659H839V626ZM839 637V659H840V637ZM841 634V659H842V634ZM842 627V659H843V627ZM843 640V659H844V640ZM849 634V659H850V634ZM850 635V659H851V635ZM852 631V659H853V631ZM853 639V659H854V639ZM854 644V659H855V644ZM856 634V659H857V634ZM857 637V659H858V637ZM863 627V659H864V627ZM864 643V659H865V643ZM865 643V659H866V643ZM867 639V659H868V639ZM868 628V659H869V628ZM870 627V659H871V627ZM871 636V659H872V636ZM875 629V659H876V629ZM876 596V659H877V596ZM878 638V659H879V638ZM879 639V659H880V639ZM881 606V659H882V606ZM882 609V659H883V609ZM883 625V659H884V625ZM885 608V659H886V608ZM889 627V659H890V627ZM890 607V659H891V607ZM892 634V659H893V634ZM893 630V659H894V630ZM894 627V659H895V627ZM896 609V659H897V609ZM897 630V659H898V630ZM899 580V659H900V580ZM903 635V659H904V635ZM904 604V659H905V604ZM905 632V659H906V632ZM907 631V659H908V631ZM908 591V659H909V591ZM910 636V659H911V636ZM911 612V659H912V612ZM912 630V659H913V630ZM916 622V659H917V622ZM918 632V659H919V632ZM919 626V659H920V626ZM921 587V659H922V587ZM922 616V659H923V616ZM923 615V659H924V615ZM925 580V659H926V580ZM926 613V659H927V613ZM930 626V659H931V626ZM932 638V659H933V638ZM933 628V659H934V628ZM934 626V659H935V626ZM936 644V659H937V644ZM937 639V659H938V639ZM939 647V659H940V647ZM940 631V659H941V631ZM944 614V659H945V614ZM945 635V659H946V635ZM947 601V659H948V601ZM948 599V659H949V599ZM950 644V659H951V644ZM951 623V659H952V623ZM952 646V659H953V646ZM954 635V659H955V635ZM958 637V659H959V637ZM959 640V659H960V640ZM961 637V659H962V637ZM962 632V659H963V632ZM963 622V659H964V622ZM965 598V659H966V598ZM966 630V659H967V630ZM968 605V659H969V605ZM972 641V659H973V641ZM973 637V659H974V637ZM974 636V659H975V636ZM976 631V659H977V631ZM977 629V659H978V629ZM979 633V659H980V633ZM980 642V659H981V642ZM981 616V659H982V616ZM985 630V659H986V630ZM987 635V659H988V635ZM988 641V659H989V641ZM990 596V659H991V596ZM991 618V659H992V618ZM992 599V659H993V599ZM994 631V659H995V631ZM995 614V659H996V614ZM999 630V659H1000V630ZM1001 620V659H1002V620ZM1002 584V659H1003V584ZM1003 550V659H1004V550ZM1005 539V659H1006V539ZM1006 626V659H1007V626ZM1008 598V659H1009V598ZM1009 603V659H1010V603ZM1013 595V659H1014V595ZM1014 633V659H1015V633ZM1016 616V659H1017V616ZM1017 622V659H1018V622ZM1019 619V659H1020V619ZM1020 595V659H1021V595ZM1021 590V659H1022V590ZM1027 631V659H1028V631ZM1028 625V659H1029V625ZM1030 587V659H1031V587ZM1031 573V659H1032V573ZM1032 579V659H1033V579ZM1034 569V659H1035V569ZM1035 595V659H1036V595ZM1041 614V659H1042V614ZM1042 608V659H1043V608ZM1043 587V659H1044V587ZM1045 579V659H1046V579ZM1046 563V659H1047V563ZM1048 510V659H1049V510ZM1049 589V659H1050V589ZM1050 580V659H1051V580ZM1054 601V659H1055V601ZM1056 589V659H1057V589ZM1057 577V659H1058V577ZM1059 608V659H1060V608ZM1060 604V659H1061V604ZM1061 554V659H1062V554ZM1063 599V659H1064V599ZM1064 576V659H1065V576ZM1067 605V659H1068V605ZM1068 582V659H1069V582ZM1070 612V659H1071V612ZM1071 614V659H1072V614ZM1072 577V659H1073V577ZM1074 619V659H1075V619ZM1075 565V659H1076V565ZM1077 595V659H1078V595ZM1081 620V659H1082V620ZM1082 597V659H1083V597ZM1083 598V659H1084V598ZM1085 532V659H1086V532ZM1086 617V659H1087V617ZM1088 605V659H1089V605ZM1089 555V659H1090V555ZM1090 612V659H1091V612ZM1096 573V659H1097V573ZM1097 613V659H1098V613ZM1099 526V659H1100V526ZM1100 581V659H1101V581ZM1101 590V659H1102V590Z"/>
<g stroke="#b0b0b0" stroke-width="1">
<line x1="197.5" y1="500.0" x2="197.5" y2="660.0"/>
<line x1="386.5" y1="500.0" x2="386.5" y2="660.0"/>
<line x1="575.5" y1="500.0" x2="575.5" y2="660.0"/>
<line x1="765.5" y1="500.0" x2="765.5" y2="660.0"/>
<line x1="955.5" y1="500.0" x2="955.5" y2="660.0"/>
<line x1="1144.5" y1="500.0" x2="1144.5" y2="660.0"/>
<line x1="65.0" y1="625.5" x2="1151.0" y2="625.5"/>
<line x1="65.0" y1="590.5" x2="1151.0" y2="590.5"/>
<line x1="65.0" y1="556.5" x2="1151.0" y2="556.5"/>
<line x1="65.0" y1="522.5" x2="1151.0" y2="522.5"/>
</g>
<rect x="65.5" y="500.5" width="1085.0" height="159.0" fill="none" stroke="#000" stroke-width="1"/>
<g stroke="#000" stroke-width="1">
<line x1="197.5" y1="659.5" x2="197.5" y2="664.5"/>
<line x1="386.5" y1="659.5" x2="386.5" y2="664.5"/>
<line x1="575.5" y1="659.5" x2="575.5" y2="664.5"/>
<line x1="765.5" y1="659.5" x2="765.5" y2="664.5"/>
<line x1="955.5" y1="659.5" x2="955.5" y2="664.5"/>
<line x1="1144.5" y1="659.5" x2="1144.5" y2="664.5"/>
<line x1="60.0" y1="659.5" x2="65.5" y2="659.5"/>
<line x1="60.0" y1="625.5" x2="65.5" y2="625.5"/>
<line x1="60.0" y1="590.5" x2="65.5" y2="590.5"/>
<line x1="60.0" y1="556.5" x2="65.5" y2="556.5"/>
<line x1="60.0" y1="522.5" x2="65.5" y2="522.5"/>
</g></g>
<text x="26.95" y="665.00" font-size="12.43" textLength="27.87" lengthAdjust="spacingAndGlyphs" fill="#000">0.00</text>
<text x="26.95" y="630.00" font-size="12.43" textLength="27.87" lengthAdjust="spacingAndGlyphs" fill="#000">0.25</text>
<text x="26.95" y="596.00" font-size="12.43" textLength="27.87" lengthAdjust="spacingAndGlyphs" fill="#000">0.50</text>
<text x="26.95" y="562.00" font-size="12.43" textLength="27.87" lengthAdjust="spacingAndGlyphs" fill="#000">0.75</text>
<text x="26.25" y="527.00" font-size="12.43" textLength="28.57" lengthAdjust="spacingAndGlyphs" fill="#000">1.00</text>
<text x="171.15" y="678.70" font-size="12.43" textLength="52.70" lengthAdjust="spacingAndGlyphs" fill="#000">2021-01</text>
<text x="360.10" y="678.70" font-size="12.43" textLength="52.80" lengthAdjust="spacingAndGlyphs" fill="#000">2022-01</text>
<text x="549.10" y="678.70" font-size="12.43" textLength="52.80" lengthAdjust="spacingAndGlyphs" fill="#000">2023-01</text>
<text x="739.10" y="678.70" font-size="12.43" textLength="52.80" lengthAdjust="spacingAndGlyphs" fill="#000">2024-01</text>
<text x="929.10" y="678.70" font-size="12.43" textLength="52.80" lengthAdjust="spacingAndGlyphs" fill="#000">2025-01</text>
<text x="1118.15" y="678.70" font-size="12.43" textLength="52.70" lengthAdjust="spacingAndGlyphs" fill="#000">2026-01</text>
<text x="65.30" y="497.00" font-size="12.32" textLength="22.53" lengthAdjust="spacingAndGlyphs" fill="#000">1e6</text>
<text x="-604.10" y="18.30" transform="rotate(-90)" font-size="12.75" textLength="43.31" lengthAdjust="spacingAndGlyphs" fill="#000">Volume</text>
<text x="64.90" y="716.60" font-size="15.65" textLength="26.01" lengthAdjust="spacingAndGlyphs" fill="#000">XLU</text>
<text x="97.63" y="717.59" font-size="16.46" textLength="65.83" lengthAdjust="spacingAndGlyphs" fill="#000" font-family="'Liberation Sans', 'Noto Sans CJK SC', sans-serif">交易次数</text>
<text x="164.6" y="716.90" font-size="15.7" fill="#000">:</text>
<text x="174.75" y="716.60" font-size="15.71" textLength="9.97" lengthAdjust="spacingAndGlyphs" fill="#000">3</text>
<text x="65.26" y="737.78" font-size="16.43" textLength="98.56" lengthAdjust="spacingAndGlyphs" fill="#000" font-family="'Liberation Sans', 'Noto Sans CJK SC', sans-serif">策略总收益率</text>
<text x="164.6" y="736.90" font-size="15.7" fill="#000">:</text>
<text x="174.90" y="736.60" font-size="15.8" textLength="56.18" lengthAdjust="spacingAndGlyphs" fill="#000">79.24%</text>
<text x="64.57" y="756.33" font-size="16.53" textLength="99.16" lengthAdjust="spacingAndGlyphs" fill="#000" font-family="'Liberation Sans', 'Noto Sans CJK SC', sans-serif">长期持有收益</text>
<text x="164.6" y="755.80" font-size="15.7" fill="#000">:</text>
<text x="174.70" y="755.50" font-size="15.8" textLength="56.38" lengthAdjust="spacingAndGlyphs" fill="#000">67.14%</text>
<text x="65.54" y="776.49" font-size="16.18" textLength="64.72" lengthAdjust="spacingAndGlyphs" fill="#000" font-family="'Liberation Sans', 'Noto Sans CJK SC', sans-serif">交易记录</text>
<text x="131.6" y="775.80" font-size="15.7" fill="#000">:</text>
<text x="74.85" y="792.30" font-size="15.36" textLength="64.77" lengthAdjust="spacingAndGlyphs" fill="#000">Buy Date</text>
<text x="150.00" y="792.30" font-size="15.36" textLength="67.24" lengthAdjust="spacingAndGlyphs" fill="#000">Buy Price</text>
<text x="227.90" y="792.30" font-size="15.36" textLength="65.51" lengthAdjust="spacingAndGlyphs" fill="#000">Sell Date</text>
<text x="304.10" y="792.30" font-size="15.36" textLength="67.58" lengthAdjust="spacingAndGlyphs" fill="#000">Sell Price</text>
<text x="381.20" y="792.30" font-size="15.36" textLength="95.49" lengthAdjust="spacingAndGlyphs" fill="#000">Holding Days</text>
<text x="486.25" y="792.30" font-size="15.36" textLength="54.67" lengthAdjust="spacingAndGlyphs" fill="#000">Profit %</text>
<text x="65.15" y="809.80" font-size="15.57" textLength="89.52" lengthAdjust="spacingAndGlyphs" fill="#000">2020-11-30</text>
<text x="184.50" y="809.80" font-size="15.57" textLength="45.35" lengthAdjust="spacingAndGlyphs" fill="#000">53.96</text>
<text x="234.50" y="809.80" font-size="15.57" textLength="89.66" lengthAdjust="spacingAndGlyphs" fill="#000">2022-04-22</text>
<text x="359.15" y="809.80" font-size="15.57" textLength="44.96" lengthAdjust="spacingAndGlyphs" fill="#000">66.73</text>
<text x="459.10" y="809.80" font-size="15.57" textLength="28.92" lengthAdjust="spacingAndGlyphs" fill="#000">507</text>
<text x="513.85" y="809.80" font-size="15.57" textLength="44.21" lengthAdjust="spacingAndGlyphs" fill="#000">23.67</text>
<text x="65.15" y="827.60" font-size="15.57" textLength="90.21" lengthAdjust="spacingAndGlyphs" fill="#000">2022-04-29</text>
<text x="184.50" y="827.60" font-size="15.57" textLength="45.35" lengthAdjust="spacingAndGlyphs" fill="#000">64.01</text>
<text x="234.50" y="827.60" font-size="15.57" textLength="88.96" lengthAdjust="spacingAndGlyphs" fill="#000">2024-10-25</text>
<text x="359.15" y="827.60" font-size="15.57" textLength="44.96" lengthAdjust="spacingAndGlyphs" fill="#000">78.09</text>
<text x="459.10" y="827.60" font-size="15.57" textLength="28.92" lengthAdjust="spacingAndGlyphs" fill="#000">910</text>
<text x="513.85" y="827.60" font-size="15.57" textLength="44.21" lengthAdjust="spacingAndGlyphs" fill="#000">22.00</text>
<text x="65.15" y="845.10" font-size="15.57" textLength="89.52" lengthAdjust="spacingAndGlyphs" fill="#000">2024-11-01</text>
<text x="184.50" y="845.10" font-size="15.57" textLength="45.35" lengthAdjust="spacingAndGlyphs" fill="#000">75.92</text>
<text x="234.50" y="845.10" font-size="15.57" textLength="88.96" lengthAdjust="spacingAndGlyphs" fill="#000">2025-10-10</text>
<text x="359.15" y="845.10" font-size="15.57" textLength="44.96" lengthAdjust="spacingAndGlyphs" fill="#000">90.19</text>
<text x="459.10" y="845.10" font-size="15.57" textLength="28.92" lengthAdjust="spacingAndGlyphs" fill="#000">343</text>
<text x="513.85" y="845.10" font-size="15.57" textLength="44.21" lengthAdjust="spacingAndGlyphs" fill="#000">18.80</text>
</svg>
</body></html>
